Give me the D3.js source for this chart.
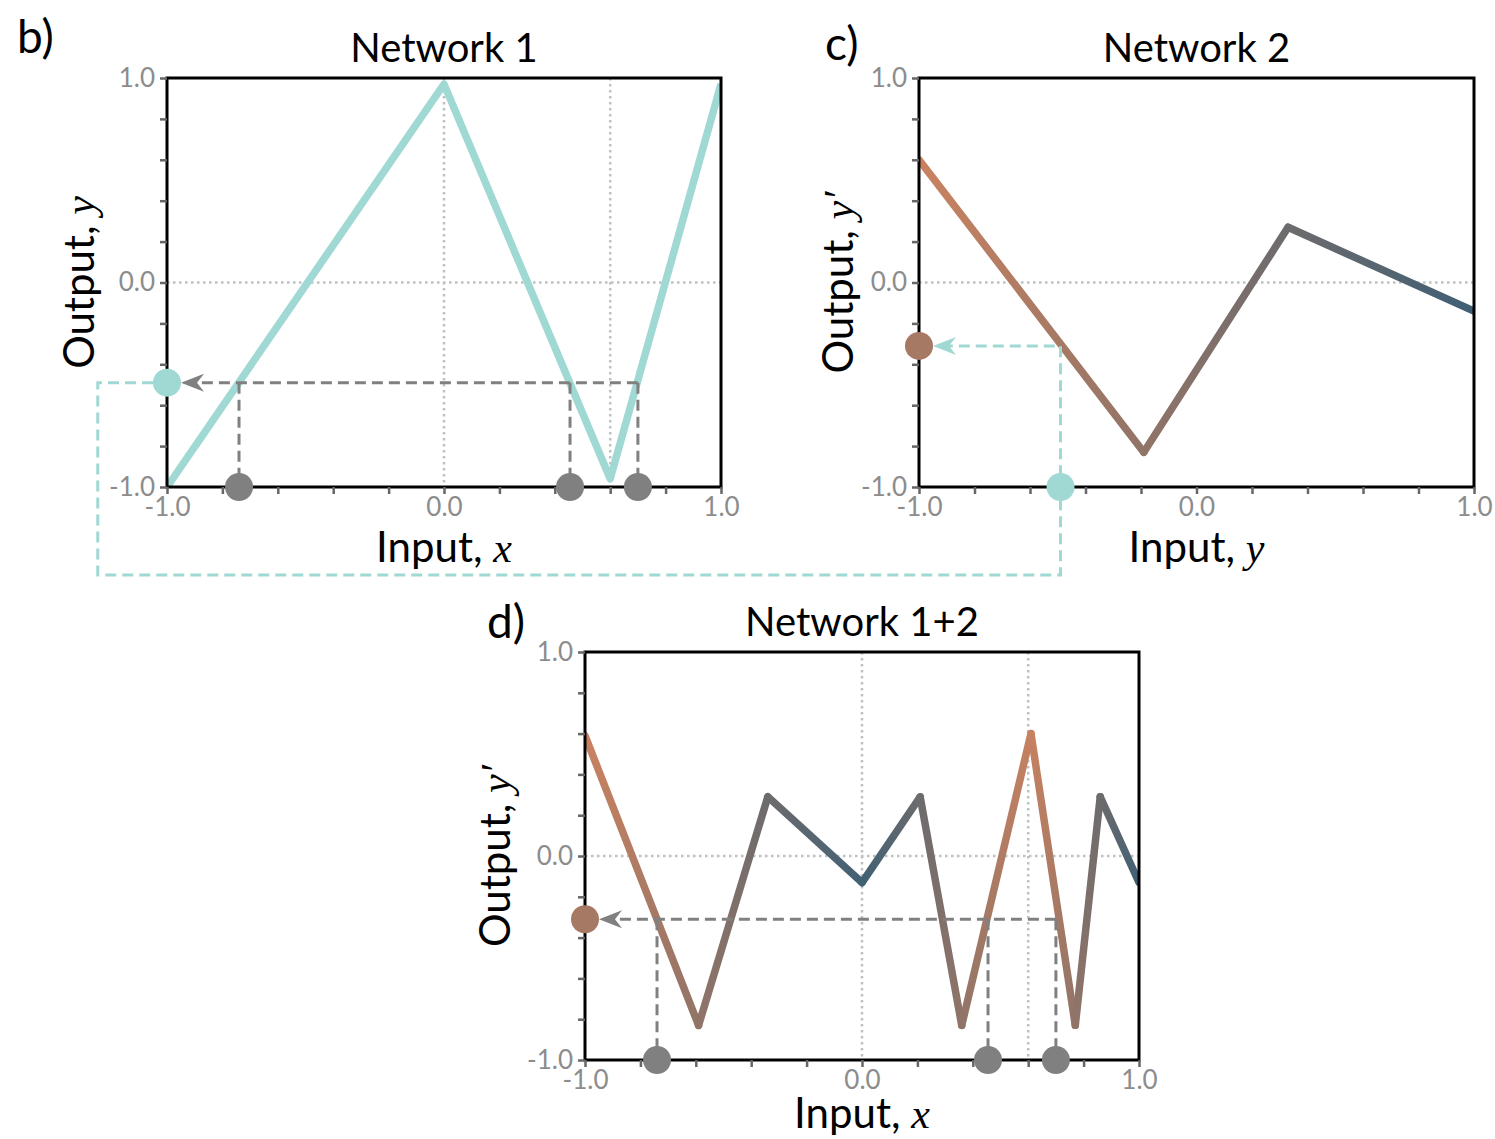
<!DOCTYPE html>
<html>
<head>
<script src="https://d3js.org/d3.v7.min.js" charset="utf-8"></script>
<style>
    body{ margin:0; background:#fff; font-family:Lato, "Open Sans", sans-serif; }
</style>
</head>
<body>
<div id="chart"></div>
<script>
// network 1 : x -> y (breakpoints)
var net1X = [-1, 0, 0.6, 1]
var net1Y = [-1, 0.97, -0.96, 0.97]
// network 2 : y -> y'
var net2X = [-1, -0.19, 0.33, 1]
var net2Y = [0.6, -0.83, 0.27, -0.14]
// network 1+2 : x -> y'
var compX = [-1, -0.59, -0.34, 0, 0.21, 0.36, 0.61, 0.77, 0.86, 1]
var compY = [0.59, -0.83, 0.29, -0.13, 0.29, -0.83, 0.6, -0.83, 0.29, -0.13]
// hidden value y at each vertex of the composed curve (used for colour)
var compMid = [-1, -0.19, 0.33, 0.97, 0.33, -0.19, -0.96, -0.19, 0.33, 0.97]

// worked example
var pickX = [-0.74, 0.455, 0.70]
var pickY = -0.49
var pickOut = -0.31

var tickVals = [-1, -0.8, -0.6, -0.4, -0.2, 0, 0.2, 0.4, 0.6, 0.8, 1]
var tickLabels = {"-1": "-1.0", "0": "0.0", "1": "1.0"}

var teal = "#a0d9d3", gray = "#808080"
var cScale = d3.scaleLinear().domain([-1, 1]).range(["#c98260", "#3f5f74"])

var svg = d3.select("#chart").append("svg")
    .attr("width", 1495).attr("height", 1139)
var defs = svg.append("defs")

function panel(o){
    var x = d3.scaleLinear().domain([-1, 1]).range([o.left, o.left + o.w])
    var y = d3.scaleLinear().domain([-1, 1]).range([o.top + o.h, o.top])
    var g = svg.append("g")

    defs.append("clipPath").attr("id", "clip" + o.id)
        .append("rect").attr("x", o.left).attr("y", o.top).attr("width", o.w).attr("height", o.h)

    // dotted guides
    g.selectAll(".gh").data(o.gridH).enter().append("line")
        .attr("x1", o.left).attr("x2", o.left + o.w)
        .attr("y1", function(d){ return y(d) }).attr("y2", function(d){ return y(d) })
        .attr("stroke", "#bcc2c2").attr("stroke-width", 2.5).attr("stroke-dasharray", "2.5,3.5")
    g.selectAll(".gv").data(o.gridV).enter().append("line")
        .attr("y1", o.top).attr("y2", o.top + o.h)
        .attr("x1", function(d){ return x(d) }).attr("x2", function(d){ return x(d) })
        .attr("stroke", "#bcc2c2").attr("stroke-width", 2.5).attr("stroke-dasharray", "2.5,3.5")

    // the curve
    var cg = g.append("g").attr("clip-path", "url(#clip" + o.id + ")")
    if(o.colors == null){
        var pts = o.xs.map(function(d, i){ return [d, o.ys[i]] })
        cg.append("path")
            .attr("d", d3.line().x(function(d){ return x(d[0]) }).y(function(d){ return y(d[1]) })(pts))
            .attr("fill", "none").attr("stroke", o.solid).attr("stroke-width", 7.5)
            .attr("stroke-linejoin", "round")
    } else {
        for(var i = 0; i < o.xs.length - 1; i++){
            var gid = "grad" + o.id + i
            var lg = defs.append("linearGradient").attr("id", gid)
                .attr("gradientUnits", "userSpaceOnUse")
                .attr("x1", x(o.xs[i])).attr("y1", y(o.ys[i]))
                .attr("x2", x(o.xs[i + 1])).attr("y2", y(o.ys[i + 1]))
            lg.append("stop").attr("offset", "0%").attr("stop-color", cScale(o.colors[i]))
            lg.append("stop").attr("offset", "100%").attr("stop-color", cScale(o.colors[i + 1]))
            cg.append("line")
                .attr("x1", x(o.xs[i])).attr("y1", y(o.ys[i]))
                .attr("x2", x(o.xs[i + 1])).attr("y2", y(o.ys[i + 1]))
                .attr("stroke", "url(#" + gid + ")").attr("stroke-width", 7.5)
                .attr("stroke-linecap", "round")
        }
    }

    // frame
    g.append("rect").attr("x", o.left).attr("y", o.top).attr("width", o.w).attr("height", o.h)
        .attr("fill", "none").attr("stroke", "#000").attr("stroke-width", 3)

    // axes
    var fmt = function(d){ var k = String(Math.round(d * 10) / 10); return tickLabels[k] || "" }
    var ax = g.append("g").attr("transform", "translate(0," + (o.top + o.h) + ")")
        .call(d3.axisBottom(x).tickValues(tickVals).tickFormat(fmt).tickSize(7).tickPadding(4))
    var ay = g.append("g").attr("transform", "translate(" + o.left + ",0)")
        .call(d3.axisLeft(y).tickValues(tickVals).tickFormat(fmt).tickSize(7).tickPadding(5))
    ;[ax, ay].forEach(function(a){
        a.select(".domain").remove()
        a.selectAll(".tick line").attr("stroke", "#666").attr("stroke-width", 2.5)
        a.selectAll(".tick text").attr("fill", "#8c8c8c").style("font-size", "26px")
            .style("font-family", "Lato, sans-serif")
    })

    // title and labels
    g.append("text").attr("x", o.left + o.w / 2).attr("y", o.top - 16)
        .attr("text-anchor", "middle").style("font-size", "40px").text(o.title)
    g.append("text").attr("x", o.tagX).attr("y", o.tagY).style("font-size", "46px").text(o.tag)

    var xl = g.append("text").attr("x", o.left + o.w / 2).attr("y", o.top + o.h + o.xOff)
        .attr("text-anchor", "middle").style("font-size", "42px")
    xl.append("tspan").text("Input, ")
    xl.append("tspan").style("font-family", "'Liberation Serif', serif").style("font-style", "italic")
        .text(o.xVar)

    var yl = g.append("text")
        .attr("transform", "translate(" + (o.left - o.yOff) + "," + (o.top + o.h / 2) + ") rotate(-90)")
        .attr("text-anchor", "middle").style("font-size", "42px")
    yl.append("tspan").text("Output, ")
    yl.append("tspan").style("font-family", "'Liberation Serif', serif").style("font-style", "italic")
        .text(o.yVar)

    return {x: x, y: y, g: g}
}

function arrow(g, tx, ty, col){
    g.append("path")
        .attr("d", "M" + tx + "," + ty + " L" + (tx + 23) + "," + (ty - 9) + " L" + (tx + 16) + "," + ty +
              " L" + (tx + 23) + "," + (ty + 9) + " Z")
        .attr("fill", col)
}

function dashed(g, pts, col){
    g.append("path").attr("d", d3.line()(pts)).attr("fill", "none")
        .attr("stroke", col).attr("stroke-width", 3).attr("stroke-dasharray", "11,6")
}

function dot(g, cx, cy, col){
    g.append("circle").attr("cx", cx).attr("cy", cy).attr("r", 14).attr("fill", col)
}

// ---- panel b
var pb = panel({id: "b", left: 167, top: 78, w: 554, h: 409, title: "Network 1", tag: "b)", tagX: 17, tagY: 53,
    xOff: 75, yOff: 73, xVar: "x", yVar: "y", xs: net1X, ys: net1Y, solid: teal, colors: null, gridH: [0], gridV: [0, 0.6]})
// ---- panel c
var pc = panel({id: "c", left: 919, top: 78, w: 555, h: 409, title: "Network 2", tag: "c)", tagX: 825, tagY: 60,
    xOff: 75, yOff: 66, xVar: "y", yVar: "y\u2032", xs: net2X, ys: net2Y, colors: net2X, gridH: [0], gridV: []})
// ---- panel d
var pd = panel({id: "d", left: 585, top: 652, w: 554, h: 408, title: "Network 1+2", tag: "d)", tagX: 487, tagY: 638,
    xOff: 68, yOff: 75, xVar: "x", yVar: "y\u2032", xs: compX, ys: compY, colors: compMid, gridH: [0], gridV: [0, 0.6]})

var ann = svg.append("g")

// panel b: the three inputs that map to the same y
pickX.forEach(function(p){
    dashed(ann, [[pb.x(p), pb.y(pickY)], [pb.x(p), pb.y(-1)]], gray)
})
dashed(ann, [[pb.x(d3.max(pickX)), pb.y(pickY)], [pb.x(-1) + 30, pb.y(pickY)]], gray)
arrow(ann, pb.x(-1) + 14, pb.y(pickY), gray)

// teal connector from panel b output to panel c input
var loopX = pb.x(-1.25), loopY = pb.y(-1.43)
dashed(ann, [[pb.x(-1) - 14, pb.y(pickY)], [loopX, pb.y(pickY)], [loopX, loopY],
             [pc.x(pickY), loopY], [pc.x(pickY), pc.y(pickOut)], [pc.x(-1) + 30, pc.y(pickOut)]], teal)
arrow(ann, pc.x(-1) + 14, pc.y(pickOut), teal)

pickX.forEach(function(p){ dot(ann, pb.x(p), pb.y(-1), gray) })
dot(ann, pb.x(-1), pb.y(pickY), teal)
dot(ann, pc.x(pickY), pc.y(-1), teal)
dot(ann, pc.x(-1), pc.y(pickOut), cScale(pickY))

// panel d
pickX.forEach(function(p){
    dashed(ann, [[pd.x(p), pd.y(pickOut)], [pd.x(p), pd.y(-1)]], gray)
})
dashed(ann, [[pd.x(d3.max(pickX)), pd.y(pickOut)], [pd.x(-1) + 30, pd.y(pickOut)]], gray)
arrow(ann, pd.x(-1) + 14, pd.y(pickOut), gray)
pickX.forEach(function(p){ dot(ann, pd.x(p), pd.y(-1), gray) })
dot(ann, pd.x(-1), pd.y(pickOut), cScale(pickY))
</script>
</body>
</html>
